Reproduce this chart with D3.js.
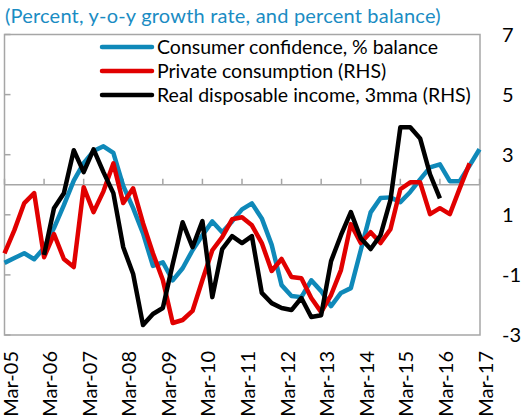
<!DOCTYPE html>
<html>
<head>
<meta charset="utf-8">
<script src="https://cdn.jsdelivr.net/npm/d3@7"></script>
<style>
  body { margin: 0; background: #fff; }
  svg { display: block; font-family: Lato, "Open Sans", sans-serif; }
</style>
</head>
<body>
<div class="chart"></div>
<script>
const yearLabels = ['Mar-05', 'Mar-06', 'Mar-07', 'Mar-08', 'Mar-09', 'Mar-10', 'Mar-11',
  'Mar-12', 'Mar-13', 'Mar-14', 'Mar-15', 'Mar-16', 'Mar-17'];

const rightTicks = [7, 5, 3, 1, -1, -3];
const leftTicks = [25, 15, 5, -5, -15, -25];

// quarterly, Mar-05 .. Mar-17
const confidence = [-13.0, -12.2, -11.4, -12.4, -10.5, -7.2, -3.4, 0.7, 3.6, 5.6, 6.4, 5.3, -0.2,
  -3.9, -8.1, -13.5, -12.9, -15.9, -13.9, -10.9, -8.4, -6.1, -7.9, -6.1, -4.1, -3.1, -5.6, -10.0,
  -16.7, -18.5, -18.7, -15.9, -17.7, -20.2, -18.0, -17.2, -10.9, -4.6, -2.2, -2.1, -2.9, -1.2, 0.9,
  2.9, 3.4, 0.6, 0.6, 3.2, 5.9];

const consumption = [-0.28, 0.49, 1.39, 1.72, -0.41, 0.36, -0.47, -0.74, 1.92, 1.09, 1.78, 2.71,
  1.39, 1.88, 0.72, -0.28, -1.17, -2.60, -2.50, -2.20, -1.17, -0.18, 0.26, 0.85, 0.92, 0.65, 0.06,
  -0.87, -0.47, -1.07, -1.11, -1.77, -2.24, -1.67, -0.84, 0.69, 0.06, 0.42, 0.06, 0.52, 1.85, 2.08,
  2.08, 1.02, 1.22, 1.02, 1.88, 2.71, null];

const income = [null, null, null, null, -0.34, 1.22, 1.72, 3.15, 2.42, 3.18, 2.42, 1.72, -0.08,
  -0.97, -2.67, -2.30, -2.10, -0.64, 0.75, -0.08, 0.79, -1.74, -0.14, 0.29, 0.06, 0.29, -1.60,
  -1.94, -2.10, -2.17, -1.77, -2.40, -2.34, -0.54, 0.32, 1.09, 0.22, -0.14, 0.32, 1.49, 3.91, 3.91,
  3.54, 2.35, 1.55, null, null, null, null];

const seriesNames = ['Consumer confidence, % balance', 'Private consumption (RHS)',
  'Real disposable income, 3mma (RHS)'];
const colors = ['#0f89b9', '#e10000', '#000000'];

const plot = { left: 4.5, right: 480, top: 34.5, bottom: 335 };

const svg = d3.select('.chart')
  .append('svg')
    .attr('width', 523)
    .attr('height', 418);

svg.append('text')
  .attr('x', 5)
  .attr('y', 23)
  .attr('fill', '#1a8cc3')
  .style('font-size', '20px')
  .style('letter-spacing', '0.2px')
  .text('(Percent, y-o-y growth rate, and percent balance)');

const x = d3.scalePoint()
  .domain(d3.range(confidence.length))
  .range([plot.left, plot.right - 0.5]);

const yL = d3.scaleLinear().domain([-25, 25]).range([plot.bottom, plot.top]);
const yR = d3.scaleLinear().domain([-3, 7]).range([plot.bottom, plot.top]);

svg.append('rect')
  .attr('x', plot.left)
  .attr('y', plot.top)
  .attr('width', plot.right - plot.left)
  .attr('height', plot.bottom - plot.top)
  .attr('fill', 'none')
  .attr('stroke', '#a6a6a6')
  .attr('stroke-width', 1.5);

svg.selectAll('.ltick')
  .data(leftTicks)
  .enter()
  .append('line')
    .attr('x1', plot.left)
    .attr('x2', plot.left + 6)
    .attr('y1', (d) => yL(d))
    .attr('y2', (d) => yL(d))
    .attr('stroke', '#a6a6a6')
    .attr('stroke-width', 1.5);

svg.selectAll('.rlabel')
  .data(rightTicks)
  .enter()
  .append('text')
    .attr('x', 502)
    .attr('y', (d) => yR(d))
    .attr('dy', '0.35em')
    .style('font-size', '20px')
    .attr('fill', '#000')
    .text((d) => d);

// category axis crosses at 0 on the left scale
const axisY = yL(0);
svg.append('line')
  .attr('x1', plot.left)
  .attr('x2', plot.right)
  .attr('y1', axisY)
  .attr('y2', axisY)
  .attr('stroke', '#a6a6a6')
  .attr('stroke-width', 1.5);

const yearIdx = yearLabels.map((d, i) => i * 4);

svg.selectAll('.xtick')
  .data(yearIdx)
  .enter()
  .append('line')
    .attr('x1', (d) => x(d))
    .attr('x2', (d) => x(d))
    .attr('y1', axisY)
    .attr('y2', axisY - 6)
    .attr('stroke', '#a6a6a6')
    .attr('stroke-width', 1.5);

svg.selectAll('.xlabel')
  .data(yearLabels)
  .enter()
  .append('text')
    .attr('transform', (d, i) => `translate(${x(yearIdx[i]) + 6}, 351) rotate(-90)`)
    .attr('text-anchor', 'end')
    .attr('dy', '0.35em')
    .style('font-size', '20px')
    .attr('fill', '#000')
    .text((d) => d);

const lineL = d3.line()
  .defined((d) => d != null)
  .x((d, i) => x(i))
  .y((d) => yL(d));

const lineR = d3.line()
  .defined((d) => d != null)
  .x((d, i) => x(i))
  .y((d) => yR(d));

const paths = [lineL(confidence), lineR(consumption), lineR(income)];

svg.selectAll('.series')
  .data(paths)
  .enter()
  .append('path')
    .attr('d', (d) => d)
    .attr('fill', 'none')
    .attr('stroke', (d, i) => colors[i])
    .attr('stroke-width', 4.5)
    .attr('stroke-linejoin', 'round');

const legend = svg.append('g')
  .attr('transform', 'translate(102, 47)');

legend.selectAll('line')
  .data(seriesNames)
  .enter()
  .append('line')
    .attr('x1', 0)
    .attr('x2', 50)
    .attr('y1', (d, i) => i * 24)
    .attr('y2', (d, i) => i * 24)
    .attr('stroke', (d, i) => colors[i])
    .attr('stroke-width', 4.5)
    .attr('stroke-linecap', 'round');

legend.selectAll('text')
  .data(seriesNames)
  .enter()
  .append('text')
    .attr('x', 55)
    .attr('y', (d, i) => i * 24 + 7)
    .style('font-size', '19.5px')
    .attr('fill', '#000')
    .text((d) => d);
</script>
</body>
</html>
